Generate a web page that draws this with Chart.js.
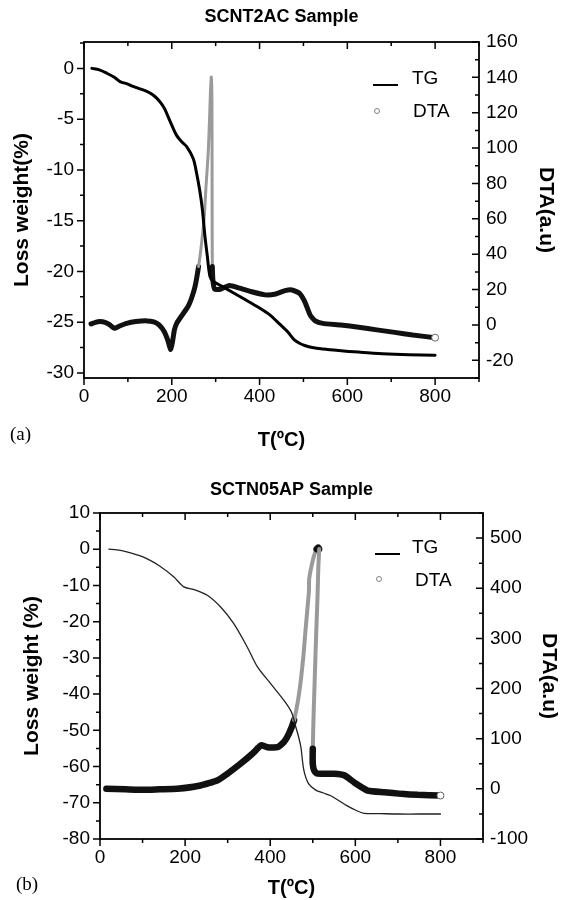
<!DOCTYPE html>
<html><head><meta charset="utf-8">
<script src="https://cdn.jsdelivr.net/npm/chart.js@4.4.1/dist/chart.umd.min.js"></script>
<style>
html,body{margin:0;padding:0;background:#fff;}
body{width:562px;height:900px;position:relative;overflow:hidden;font-family:'Liberation Sans',Arial,sans-serif;}
.box{position:absolute;left:0;width:562px;height:450px;}
#boxA{top:0}
#boxB{top:450px}
canvas{display:block}
.lg{position:absolute;font-size:19px;line-height:19px;color:#000;white-space:nowrap}
.ln{position:absolute;height:0;border-top:2px solid #000}
.mk{position:absolute;width:4px;height:4px;border:1px solid #808080;border-radius:50%;background:#fff}
.pl{position:absolute;font-family:'Liberation Serif','Times New Roman',serif;font-size:19px;line-height:19px;color:#000}
</style></head>
<body>
<div class="box" id="boxA"><canvas id="chartA" width="562" height="450"></canvas></div>
<div class="box" id="boxB"><canvas id="chartB" width="562" height="450"></canvas></div>

<div class="ln" style="left:373px;top:84px;width:25px"></div>
<div class="lg" style="left:412px;top:68px">TG</div>
<div class="mk" style="left:374px;top:108px"></div>
<div class="lg" style="left:413px;top:101px">DTA</div>

<div class="ln" style="left:375px;top:553px;width:25px"></div>
<div class="lg" style="left:412px;top:537px">TG</div>
<div class="mk" style="left:376px;top:576px"></div>
<div class="lg" style="left:415px;top:570px">DTA</div>

<div class="pl" style="left:10px;top:424px">(a)</div>
<div class="pl" style="left:16px;top:874px">(b)</div>

<script>
// ---------- data: chart (a) SCNT2AC ----------
const tgA_T = [18, 35, 52, 70, 82, 100, 112, 130, 143, 155, 165, 175, 184, 192, 200, 211, 222, 234, 249, 256, 264, 270, 275, 281, 287, 294, 320, 360, 400, 424, 446, 465, 478, 492, 503, 520, 544, 580, 626, 680, 740, 800];
const tgA_W = [0, -0.15, -0.48, -0.9, -1.3, -1.55, -1.78, -2.05, -2.26, -2.55, -2.9, -3.4, -4.0, -4.8, -5.6, -6.6, -7.2, -7.7, -8.9, -10.2, -12.1, -14.0, -16.3, -18.5, -20.5, -20.96, -21.6, -22.6, -23.6, -24.3, -25.2, -26.0, -26.7, -27.1, -27.3, -27.5, -27.65, -27.8, -27.95, -28.1, -28.2, -28.25];
const dtaA_T = [16, 26, 36, 48, 59, 69, 81, 97, 118, 143, 159, 171, 183, 192, 197, 201, 206, 212, 224, 237, 245, 253, 261, 267, 274, 278, 283, 286, 288, 290, 291.5, 291.8, 292, 292.5, 294, 298, 310, 331, 355, 380, 413, 437, 458, 474, 491, 503, 515, 527, 544, 585, 626, 667, 708, 749, 800];
const dtaA_V = [0.6, 1.5, 1.9, 1.5, 0, -1.9, -0.6, 0.9, 1.9, 2.3, 1.7, 0, -3.8, -9.4, -13.8, -10.4, -2.8, 1.3, 5.7, 10.4, 15.1, 21.7, 33, 44.3, 61.3, 78.3, 97.2, 116, 131, 140.2, 127, 89.6, 51.9, 33, 24.5, 20.2, 20.2, 22.3, 20.8, 18.9, 17, 17.5, 19.4, 19.8, 17.9, 13.2, 5.7, 2.3, 0.9, 0, -1.3, -2.8, -4.2, -5.7, -7.2];

// ---------- data: chart (b) SCTN05AP ----------
const tgB_T = [21, 40, 63, 85, 110, 141, 173, 197, 220, 252, 283, 314, 346, 370, 401, 432, 450, 460, 466, 472, 479, 490, 507, 525, 541, 560, 580, 600, 620, 660, 700, 750, 800];
const tgB_W = [0, -0.2, -0.74, -1.5, -2.6, -4.7, -7.6, -10.4, -11.1, -12.7, -15.9, -20.5, -27, -32.5, -37.1, -41.7, -45, -49, -51.5, -54.6, -61, -64.7, -66.5, -67.3, -68, -69.3, -70.8, -72.0, -72.9, -73.0, -73.1, -73.1, -73.1];
const dtaB_T = [15, 60, 102, 140, 181, 236, 275, 299, 330, 358, 372, 379, 393, 417, 432, 444, 456, 465, 472, 478, 483, 488, 491, 491.5, 496, 503, 509, 513, 515, 513, 511, 508, 505, 502, 500, 500, 503, 509, 519, 550, 574, 597, 629, 668, 708, 747, 800];
const dtaB_V = [0, -1, -2, -1, 0, 6.6, 16.6, 30, 50, 70, 82, 87, 83, 83, 93, 110, 137, 175, 217, 265, 317, 365, 395, 418, 440, 465, 478, 481, 478, 440, 380, 310, 230, 150, 80, 50, 37, 31, 30, 30, 27, 13, -3.4, -6.7, -10, -12, -13.4];

// ---------- tick labels ----------
const xLabels = [0, 200, 400, 600, 800];
const leftLabelsA = [0, -5, -10, -15, -20, -25, -30];
const rightLabelsA = [-20, 0, 20, 40, 60, 80, 100, 120, 140, 160];
const leftLabelsB = [10, 0, -10, -20, -30, -40, -50, -60, -70, -80];
const rightLabelsB = [-100, 0, 100, 200, 300, 400, 500];

const FONT = "'Liberation Sans', Arial, sans-serif";
const pts = (xs, ys) => xs.map((x, i) => ({x: x, y: ys[i]}));
const lab = list => (v => list.some(l => Math.abs(l - v) < 1e-6) ? String(v) : '');

const frameTicks = {
  id: 'frameTicks',
  afterDatasetsDraw(chart, args, o) {
    const {ctx, chartArea: a, scales: s} = chart;
    const maj = (v, m) => Math.abs(v / m - Math.round(v / m)) < 1e-6;
    ctx.save();
    ctx.strokeStyle = '#000';
    ctx.lineWidth = 1.5;
    ctx.beginPath();
    s.x.ticks.forEach(t => {
      const p = s.x.getPixelForValue(t.value);
      const L = maj(t.value, o.xMajor) ? 7 : 4;
      ctx.moveTo(p, a.bottom); ctx.lineTo(p, a.bottom + L);
      ctx.moveTo(p, a.top); ctx.lineTo(p, a.top + L);
    });
    s.y.ticks.forEach(t => {
      const p = s.y.getPixelForValue(t.value);
      const L = maj(t.value, o.yMajor) ? 7 : 4;
      ctx.moveTo(a.left - L, p); ctx.lineTo(a.left, p);
    });
    s.y1.ticks.forEach(t => {
      const p = s.y1.getPixelForValue(t.value);
      const L = maj(t.value, o.y1Major) ? 7 : 4;
      ctx.moveTo(a.right - L, p); ctx.lineTo(a.right, p);
    });
    ctx.stroke();
    ctx.lineWidth = 1.8;
    ctx.strokeRect(a.left, a.top, a.right - a.left, a.bottom - a.top);
    ctx.restore();
  }
};

function makeChart(id, c) {
  const steep = (ctx) => {
    const v0 = c.dta[ctx.p0DataIndex].y, v1 = c.dta[ctx.p1DataIndex].y;
    const ratio = Math.abs(ctx.p1.y - ctx.p0.y) > 2 * Math.abs(ctx.p1.x - ctx.p0.x);
    return ratio && Math.max(v0, v1) > c.greyAbove;
  };
  const tickCommon = {autoSkip: false, maxRotation: 0, color: '#000', font: {family: FONT, size: 19}, maxTicksLimit: 200};
  return new Chart(document.getElementById(id), {
    type: 'scatter',
    data: {
      datasets: [
        {
          label: 'TG', data: c.tg, yAxisID: 'y', showLine: true,
          borderColor: c.tgColor, borderWidth: c.tgWidth, tension: 0.3,
          pointRadius: 0, borderJoinStyle: 'round', borderCapStyle: 'round'
        },
        {
          label: 'DTA', data: c.dta, yAxisID: 'y1', showLine: true,
          borderColor: '#111', borderWidth: c.dtaWidth, tension: 0.15,
          borderJoinStyle: 'round', borderCapStyle: 'round',
          pointRadius: ctx => ctx.dataIndex === c.dta.length - 1 ? 3.5 : 0,
          pointBackgroundColor: '#fff', pointBorderColor: '#666', pointBorderWidth: 1,
          segment: {
            borderColor: ctx => steep(ctx) ? '#9a9a9a' : '#111',
            borderWidth: ctx => steep(ctx) ? c.steepWidth : c.dtaWidth
          }
        }
      ]
    },
    options: {
      responsive: false, animation: false, devicePixelRatio: 1,
      layout: {padding: 0},
      plugins: {
        legend: {display: false},
        tooltip: {enabled: false},
        title: {
          display: true, text: c.title, fullSize: false, color: '#000',
          font: {family: FONT, size: 18, weight: 'bold', lineHeight: 1.2},
          padding: {top: c.titleTop, bottom: c.titleBottom}
        },
        frameTicks: {xMajor: 200, yMajor: c.yMajor, y1Major: c.y1Major}
      },
      scales: {
        x: {
          type: 'linear', position: 'bottom', min: 0, max: 900,
          ticks: Object.assign({}, tickCommon, {stepSize: 100, padding: c.xPad, callback: lab(xLabels)}),
          grid: {display: false, drawTicks: false}, border: {display: false},
          title: {display: true, text: 'T(ºC)', color: '#000', font: {family: FONT, size: 20, weight: 'bold', lineHeight: 1}, padding: {top: 0, bottom: c.xTitlePad}},
          afterFit: s => { s.height = c.xH; }
        },
        y: {
          type: 'linear', position: 'left', min: c.yMin, max: c.yMax,
          ticks: Object.assign({}, tickCommon, {stepSize: c.yStep, includeBounds: false, padding: 10, callback: lab(c.yLabels)}),
          grid: {display: false, drawTicks: false}, border: {display: false},
          title: {display: true, text: c.yTitle, color: '#000', font: {family: FONT, size: 21, weight: 'bold', lineHeight: 1}, padding: {top: c.yTitlePad, bottom: 0}},
          afterFit: s => { s.width = c.leftW; }
        },
        y1: {
          type: 'linear', position: 'right', min: c.y1Min, max: c.y1Max,
          ticks: Object.assign({}, tickCommon, {stepSize: c.y1Step, includeBounds: false, padding: 7, callback: lab(c.y1Labels)}),
          grid: {display: false, drawTicks: false}, border: {display: false},
          title: {display: true, text: 'DTA(a.u)', color: '#000', font: {family: FONT, size: 21, weight: 'bold', lineHeight: 1}, padding: {top: c.y1TitlePad, bottom: 0}},
          afterFit: s => { s.width = c.rightW; }
        }
      }
    },
    plugins: [frameTicks]
  });
}

makeChart('chartA', {
  title: 'SCNT2AC Sample', titleTop: 6, titleBottom: 14.4,
  tg: pts(tgA_T, tgA_W), dta: pts(dtaA_T, dtaA_V),
  tgColor: '#000', tgWidth: 3, dtaWidth: 5, steepWidth: 3, greyAbove: 35,
  yMin: -30.5, yMax: 2.6, yStep: 2.5, yMajor: 5, yLabels: leftLabelsA, yTitle: 'Loss weight(%)', yTitlePad: 12,
  y1Min: -30, y1Max: 160, y1Step: 10, y1Major: 20, y1Labels: rightLabelsA, y1TitlePad: 6,
  leftW: 84, rightW: 83, xH: 72, xPad: 7, xTitlePad: 0
});

makeChart('chartB', {
  title: 'SCTN05AP Sample', titleTop: 29, titleBottom: 12.4,
  tg: pts(tgB_T, tgB_W), dta: pts(dtaB_T, dtaB_V),
  tgColor: '#222', tgWidth: 1.3, dtaWidth: 6.5, steepWidth: 4, greyAbove: 140,
  yMin: -80, yMax: 10, yStep: 5, yMajor: 10, yLabels: leftLabelsB, yTitle: 'Loss weight (%)', yTitlePad: 22,
  y1Min: -100, y1Max: 550, y1Step: 50, y1Major: 100, y1Labels: rightLabelsB, y1TitlePad: 3,
  leftW: 100, rightW: 79, xH: 61, xPad: 7, xTitlePad: 2
});
</script>
</body></html>
